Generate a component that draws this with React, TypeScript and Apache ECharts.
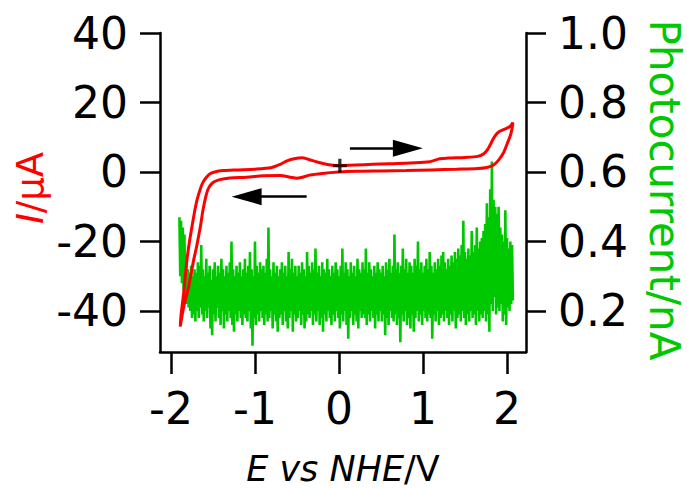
import React, { useEffect, useRef } from "react";
import * as echarts from "echarts";

// ---- axis ticks ----
const xTicks = [-2, -1, 0, 1, 2];
const leftTicks = [-40, -20, 0, 20, 40];
const rightTicks = [0.2, 0.4, 0.6, 0.8, 1.0];

// ---- cyclic voltammogram (red), in scan order ----
const cvE = [
  0.0, 0.2, 0.4, 0.6, 0.85, 1.05, 1.12, 1.2, 1.3, 1.5, 1.65, 1.72, 1.77, 1.82, 1.86, 1.9, 1.95, 2.0, 2.04, 2.07,
  2.06, 2.04, 2.0, 1.96, 1.9, 1.84, 1.76, 1.65, 1.4, 1.1, 0.8, 0.5, 0.2, 0.0, -0.2, -0.35, -0.45, -0.5, -0.58, -0.7,
  -0.9, -1.1, -1.3, -1.42, -1.5, -1.55, -1.58, -1.62, -1.65, -1.7, -1.73, -1.79, -1.85, -1.89,
  -1.88, -1.85, -1.81, -1.78, -1.75, -1.72, -1.69, -1.65, -1.62, -1.58, -1.54, -1.48, -1.38, -1.2, -1.0, -0.8,
  -0.7, -0.62, -0.52, -0.44, -0.36, -0.25, -0.12, 0.0,
];
const cvI = [
  1.8, 2.0, 2.2, 2.4, 2.6, 2.9, 3.2, 3.8, 4.0, 4.2, 4.5, 5.2, 6.5, 8.8, 10.5, 11.5, 12.1, 12.6, 13.2, 14.2,
  12.5, 10.5, 8.0, 5.6, 3.4, 2.0, 1.3, 1.0, 0.8, 0.6, 0.4, 0.3, 0.2, 0.0, -0.4, -0.9, -1.6, -1.8, -1.5, -1.0,
  -1.1, -1.5, -1.7, -2.2, -3.0, -4.5, -6.5, -11, -15.7, -22, -25.3, -33, -39, -44.5,
  -41, -35, -25.3, -20, -15.7, -11.5, -8, -4.8, -3, -1.6, -0.6, 0.0, 0.4, 0.6, 0.8, 1.3,
  2.2, 3.2, 3.9, 4.1, 3.6, 2.8, 2.1, 1.8,
];

// ---- photocurrent (green), sampled every 0.01 V from -1.90 V ----
const photoStartE = -1.9;
const photoStepE = 0.01;
const photoCurrent = [
  0.47, 0.30, 0.46, 0.28, 0.44, 0.26, 0.42, 0.24, 0.36, 0.22, 0.32, 0.21, 0.31, 0.20, 0.33, 0.18, 0.30, 0.19, 0.32, 0.17,
  0.31, 0.20, 0.34, 0.18, 0.33, 0.21, 0.39, 0.19, 0.32, 0.17, 0.30, 0.20, 0.35, 0.18, 0.31, 0.21, 0.33, 0.15, 0.29, 0.13,
  0.32, 0.19, 0.34, 0.17, 0.30, 0.21, 0.33, 0.18, 0.31, 0.16, 0.35, 0.20, 0.32, 0.15, 0.30, 0.19, 0.33, 0.17, 0.31, 0.20,
  0.34, 0.18, 0.40, 0.16, 0.32, 0.14, 0.30, 0.19, 0.33, 0.17, 0.31, 0.20, 0.34, 0.18, 0.30, 0.16, 0.32, 0.19, 0.35, 0.18,
  0.31, 0.17, 0.33, 0.20, 0.37, 0.15, 0.32, 0.10, 0.30, 0.18, 0.40, 0.16, 0.33, 0.19, 0.31, 0.17, 0.34, 0.20, 0.32, 0.18,
  0.33, 0.16, 0.31, 0.19, 0.35, 0.17, 0.44, 0.18, 0.32, 0.20, 0.30, 0.15, 0.34, 0.19, 0.31, 0.17, 0.33, 0.14, 0.30, 0.18,
  0.32, 0.19, 0.34, 0.16, 0.31, 0.20, 0.33, 0.17, 0.30, 0.15, 0.37, 0.18, 0.32, 0.20, 0.35, 0.14, 0.31, 0.19, 0.33, 0.17,
  0.30, 0.18, 0.33, 0.20, 0.31, 0.16, 0.34, 0.19, 0.32, 0.15, 0.30, 0.17, 0.37, 0.19, 0.33, 0.18, 0.31, 0.20, 0.34, 0.16,
  0.32, 0.19, 0.38, 0.17, 0.31, 0.20, 0.33, 0.16, 0.30, 0.18, 0.34, 0.14, 0.32, 0.19, 0.31, 0.17, 0.35, 0.20, 0.32, 0.18,
  0.30, 0.16, 0.33, 0.19, 0.31, 0.17, 0.34, 0.20, 0.32, 0.18, 0.30, 0.15, 0.33, 0.19, 0.38, 0.17, 0.31, 0.20, 0.34, 0.16,
  0.32, 0.12, 0.30, 0.18, 0.34, 0.20, 0.31, 0.16, 0.33, 0.19, 0.30, 0.17, 0.35, 0.15, 0.32, 0.20, 0.31, 0.18, 0.34, 0.19,
  0.32, 0.18, 0.38, 0.16, 0.31, 0.19, 0.34, 0.17, 0.32, 0.20, 0.30, 0.18, 0.33, 0.15, 0.31, 0.19, 0.34, 0.17, 0.32, 0.20,
  0.31, 0.17, 0.33, 0.19, 0.30, 0.13, 0.34, 0.18, 0.32, 0.16, 0.35, 0.20, 0.31, 0.18, 0.33, 0.17, 0.42, 0.19, 0.32, 0.16,
  0.34, 0.18, 0.31, 0.11, 0.33, 0.19, 0.38, 0.17, 0.32, 0.20, 0.35, 0.16, 0.31, 0.18, 0.34, 0.15, 0.33, 0.19, 0.31, 0.14,
  0.35, 0.18, 0.33, 0.20, 0.40, 0.17, 0.32, 0.19, 0.34, 0.16, 0.31, 0.20, 0.33, 0.18, 0.35, 0.17, 0.32, 0.19, 0.37, 0.18,
  0.33, 0.12, 0.31, 0.19, 0.34, 0.17, 0.32, 0.20, 0.35, 0.16, 0.33, 0.18, 0.36, 0.19, 0.37, 0.17, 0.34, 0.20, 0.32, 0.18,
  0.35, 0.16, 0.33, 0.19, 0.36, 0.17, 0.34, 0.20, 0.37, 0.15, 0.35, 0.18, 0.38, 0.19, 0.36, 0.17, 0.39, 0.20, 0.46, 0.18,
  0.37, 0.16, 0.35, 0.19, 0.38, 0.17, 0.36, 0.20, 0.43, 0.18, 0.37, 0.19, 0.39, 0.16, 0.44, 0.20, 0.38, 0.17, 0.40, 0.19,
  0.41, 0.18, 0.43, 0.20, 0.45, 0.17, 0.51, 0.19, 0.47, 0.14, 0.55, 0.22, 0.63, 0.20, 0.52, 0.24, 0.50, 0.19, 0.48, 0.21,
  0.50, 0.20, 0.44, 0.22, 0.42, 0.17, 0.40, 0.19, 0.49, 0.16, 0.41, 0.21, 0.38, 0.20, 0.40, 0.22, 0.39, 0.23,
];

// ---- annotations (data coordinates) ----
const scanStartMarker = [0.01, 1.8];
const arrowForward = [
  [0.13, 6.8],
  [0.82, 6.8],
];
const arrowReverse = [
  [-0.385, -7.1],
  [-1.1, -7.1],
];

const RED = "#ff0000";
const GREEN = "#00c800";
const FONT = "DejaVu Sans";

export default function App() {
  const ref = useRef<HTMLDivElement>(null);

  useEffect(() => {
    if (!ref.current) return;
    const chart = echarts.init(ref.current, undefined, { renderer: "svg" });

    const cvData = cvE.map((e, i) => [e, cvI[i]]);
    const photoData = photoCurrent.map((v, i) => [photoStartE + i * photoStepE, v]);

    const axisLineStyle = { color: "#000", width: 2.5 };

    chart.setOption({
      animation: false,
      backgroundColor: "#fff",
      grid: { left: 160, right: 161, top: 33, bottom: 137, containLabel: false },
      xAxis: {
        type: "value",
        min: -2.131,
        max: 2.226,
        axisLine: { show: true, onZero: false, lineStyle: axisLineStyle },
        axisTick: { show: true, length: 22, lineStyle: axisLineStyle, customValues: xTicks },
        axisLabel: {
          show: true,
          customValues: xTicks,
          margin: 34,
          fontSize: 44,
          fontFamily: FONT,
          color: "#000",
        },
        splitLine: { show: false },
      },
      yAxis: [
        {
          type: "value",
          position: "left",
          min: -51.8,
          max: 40,
          axisLine: { show: true, onZero: false, lineStyle: axisLineStyle },
          axisTick: { show: true, length: 20, lineStyle: axisLineStyle, customValues: leftTicks },
          axisLabel: {
            show: true,
            customValues: leftTicks,
            margin: 32,
            fontSize: 44,
            fontFamily: FONT,
            color: "#000",
          },
          splitLine: { show: false },
        },
        {
          type: "value",
          position: "right",
          min: 0.082,
          max: 1.0,
          axisLine: { show: true, onZero: false, lineStyle: axisLineStyle },
          axisTick: { show: true, length: 20, lineStyle: axisLineStyle, customValues: rightTicks },
          axisLabel: {
            show: true,
            customValues: rightTicks,
            margin: 32,
            fontSize: 44,
            fontFamily: FONT,
            color: "#000",
            formatter: (v: number) => v.toFixed(1),
          },
          splitLine: { show: false },
        },
      ],
      series: [
        {
          type: "line",
          name: "Photocurrent",
          yAxisIndex: 1,
          data: photoData,
          showSymbol: false,
          lineStyle: { color: GREEN, width: 2.6 },
          itemStyle: { color: GREEN },
          z: 1,
          silent: true,
        },
        {
          type: "line",
          name: "I",
          yAxisIndex: 0,
          data: cvData,
          showSymbol: false,
          smooth: 0.3,
          lineStyle: { color: RED, width: 3 },
          itemStyle: { color: RED },
          z: 3,
          silent: true,
          markLine: {
            silent: true,
            symbol: ["none", "triangle"],
            symbolSize: [17, 30],
            label: { show: false },
            lineStyle: { color: "#000", width: 2.5, type: "solid" },
            itemStyle: { color: "#000" },
            emphasis: { disabled: true },
            data: [
              [{ coord: arrowForward[0] }, { coord: arrowForward[1] }],
              [{ coord: arrowReverse[0] }, { coord: arrowReverse[1] }],
            ],
          },
        },
        {
          type: "scatter",
          yAxisIndex: 0,
          data: [scanStartMarker],
          symbol: "path://M5,0H8V5H13V8H8V13H5V8H0V5H5Z",
          symbolSize: 14,
          itemStyle: { color: "#000" },
          z: 4,
          silent: true,
        },
      ],
      graphic: [
        {
          type: "text",
          x: 30,
          y: 188,
          rotation: Math.PI / 2,
          style: {
            text: "{i|I}/μA",
            fontSize: 37,
            fontFamily: FONT,
            fill: RED,
            align: "center",
            verticalAlign: "middle",
            rich: { i: { fontStyle: "italic", fontSize: 37, fontFamily: FONT, fill: RED } },
          },
        },
        {
          type: "text",
          x: 664,
          y: 190,
          rotation: -Math.PI / 2,
          style: {
            text: "Photocurrent/nA",
            fontSize: 42,
            fontFamily: FONT,
            fill: GREEN,
            align: "center",
            verticalAlign: "middle",
          },
        },
        {
          type: "text",
          x: 343,
          y: 469,
          style: {
            text: "{i|E vs NHE}/V",
            fontSize: 35,
            fontFamily: FONT,
            fill: "#000",
            align: "center",
            verticalAlign: "middle",
            rich: { i: { fontStyle: "italic", fontSize: 35, fontFamily: FONT, fill: "#000" } },
          },
        },
      ],
    });

    return () => chart.dispose();
  }, []);

  return (
    <div
      ref={ref}
      style={{ position: "fixed", left: 0, top: 0, width: 687, height: 489, background: "#fff" }}
    />
  );
}
